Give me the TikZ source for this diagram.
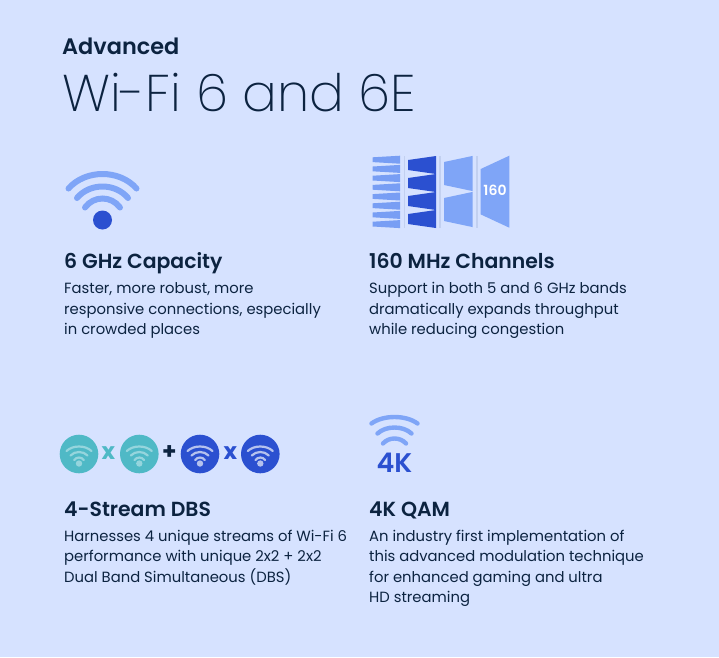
\documentclass[tikz,border=0pt]{standalone}
\usepackage{fontspec}
\usepackage{xcolor}
\setmainfont{Poppins}[UprightFont=* Regular,BoldFont=* SemiBold]
\newfontfamily\lightfont{Poppins ExtraLight}
\newfontfamily\opfont{Poppins Bold}
\definecolor{pagebg}{HTML}{D6E2FF}
\definecolor{inkdark}{HTML}{0C2340}
\definecolor{bandblue}{HTML}{2B50D0}
\definecolor{skyblue}{HTML}{7FA5F7}
\definecolor{tealdisc}{HTML}{4FB9C6}
\definecolor{sepline}{HTML}{C2D0F0}
\newcommand{\wifiarc}[4]{\draw[line cap=round, #4] (#1-#2,#3) .. controls (#1-0.5*#2,#3-1.333*\archt) and (#1+0.5*#2,#3-1.333*\archt) .. (#1+#2,#3);}
\newcommand{\fanband}[6]{\fill[#6] (#1,#3-#4) -- (#2,#3-#5) -- (#2,#3+#5) -- (#1,#3+#4) -- cycle;}
\begin{document}
\begin{tikzpicture}[
    x=1pt, y=-1pt,
    txt/.style={anchor=base west, inner sep=0pt, text=inkdark},
    head/.style={txt, font=\fontsize{20.4}{24}\selectfont\bfseries},
    body/.style={txt, font=\fontsize{14.8}{20.4}\selectfont, align=left, anchor=north west},
    disc/.style={circle, minimum size=38.6pt, inner sep=0pt},
    op/.style={inner sep=0pt, font=\fontsize{23}{24}\selectfont\opfont}]
  \useasboundingbox[fill=pagebg] (0,0) rectangle (719,657);
  % header
  \node[txt, font=\fontsize{22.4}{26}\selectfont\bfseries] (kicker) at (62,54) {Advanced};
  \node[txt, font=\fontsize{51.6}{60}\selectfont\lightfont] (title) at (62,111.5) {Wi-Fi 6 and 6E};
  % 6 GHz
  \def\archt{14.5}
  \wifiarc{102.5}{34}{188.5}{line width=6pt, skyblue}
  \def\archt{11.5}
  \wifiarc{102.5}{25.5}{198}{line width=6pt, skyblue}
  \def\archt{9}
  \wifiarc{102.5}{17.5}{207.5}{line width=6pt, skyblue}
  \fill[bandblue] (102.5,220) circle (9.5);
  \node[head] (ghz) at (64,268) {6 GHz Capacity};
  \node[body] (ghztxt) at (64,282.5) {Faster, more robust, more\\responsive connections, especially\\in crowded places};
  % 160 MHz
  \foreach \yc in {159.7,168.9,...,226} {\fanband{372.7}{400}{\yc}{2.4}{4}{skyblue!92!bandblue}}
  \foreach \yc in {165,183,201,219} {\fanband{408}{436}{\yc}{5}{9}{bandblue}}
  \foreach \yc in {173.5,209.5} {\fanband{444}{472.7}{\yc}{11.5}{17.6}{skyblue}}
  \fanband{480.7}{509.3}{191.7}{22.7}{36}{skyblue}
  \foreach \xs in {404.3,440,476.7} {\draw[sepline, line width=1.6pt] (\xs,156) -- (\xs,228);}
  \node[inner sep=0pt, text=white, font=\fontsize{14}{15}\selectfont\bfseries] (bw) at (495,190.7) {160};
  \node[head] (mhz) at (369,268) {160 MHz Channels};
  \node[body] (mhztxt) at (369,282.5) {Support in both 5 and 6 GHz bands\\dramatically expands throughput\\while reducing congestion};
  % DBS
  \node[disc, fill=tealdisc] (d1) at (79,454) {};
  \node[disc, fill=tealdisc] (d2) at (139.3,454) {};
  \node[disc, fill=bandblue] (d3) at (200,454) {};
  \node[disc, fill=bandblue] (d4) at (260.3,454) {};
  \foreach \dn/\cx/\cl in {d1/79/white!40!tealdisc, d2/139.3/white!40!tealdisc, d3/200/white!65!bandblue, d4/260.3/white!65!bandblue} {
    \def\archt{4.5}
    \wifiarc{\cx}{12.5}{451}{line width=2.2pt, \cl}
    \def\archt{3.5}
    \wifiarc{\cx}{8.5}{455.5}{line width=2.2pt, \cl}
    \def\archt{2.5}
    \wifiarc{\cx}{4.8}{460}{line width=2.2pt, \cl}
    \fill[\cl] (\cx,463.5) circle (3.2);
  }
  \node[op, text=tealdisc] (x1) at (108.5,453) {x};
  \node[op, text=inkdark] (plus) at (169.3,453) {+};
  \node[op, text=bandblue] (x2) at (230.3,453) {x};
  \node[head] (dbs) at (64,516) {4-Stream DBS};
  \node[body] (dbstxt) at (64,530) {Harnesses 4 unique streams of Wi-Fi 6\\performance with unique 2x2 + 2x2\\Dual Band Simultaneous (DBS)};
  % 4K
  \def\archt{6.5}
  \wifiarc{394.5}{23}{423.5}{line width=4.4pt, skyblue}
  \def\archt{6}
  \wifiarc{394.5}{17}{433.5}{line width=4.4pt, skyblue}
  \def\archt{5}
  \wifiarc{394.5}{11.5}{443.5}{line width=4.4pt, skyblue}
  \node[inner sep=0pt, anchor=base, text=bandblue, font=\fontsize{27}{28}\selectfont\bfseries] (fourk) at (394.5,472) {4K};
  \node[head] (qam) at (369,516) {4K QAM};
  \node[body] (qamtxt) at (369,530) {An industry first implementation of\\this advanced modulation technique\\for enhanced gaming and ultra\\HD streaming};
\end{tikzpicture}
\end{document}
